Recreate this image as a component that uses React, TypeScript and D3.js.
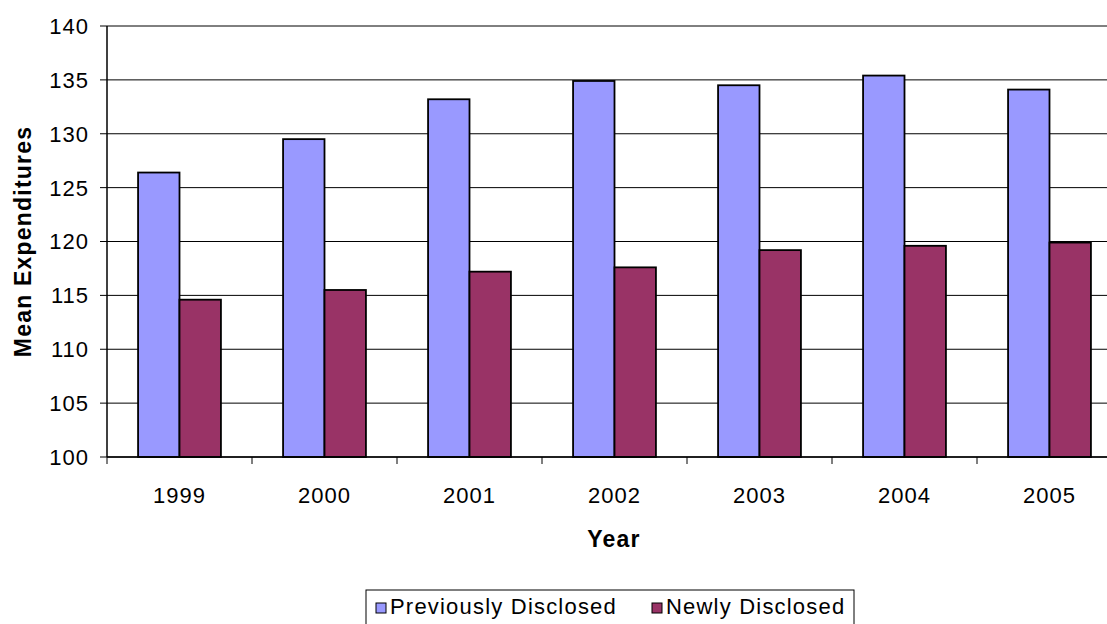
import React from "react";
import * as d3 from "d3";

const years = ["1999", "2000", "2001", "2002", "2003", "2004", "2005"];
const previouslyDisclosed = [126.4, 129.5, 133.2, 134.9, 134.5, 135.4, 134.1];
const newlyDisclosed = [114.6, 115.5, 117.2, 117.6, 119.2, 119.6, 119.9];
const seriesNames = ["Previously Disclosed", "Newly Disclosed"];
const seriesColors = ["#9999FF", "#993366"];
const yTicks = [100, 105, 110, 115, 120, 125, 130, 135, 140];

const W = 1107;
const H = 624;
const left = 107;
const right = 1122;
const top = 26;
const bottom = 457;
const FONT = "'Liberation Sans', Arial, sans-serif";

export default function App() {
  const x = d3.scaleBand<string>().domain(years).range([left, right]).paddingInner(0).paddingOuter(0);
  const y = d3.scaleLinear().domain([100, 140]).range([bottom, top]);
  const bw = x.bandwidth();
  const barW = bw / 3.5;
  const inner = d3.scaleBand<number>().domain([0, 1]).range([barW * 0.75, barW * 2.75]);
  const series = [previouslyDisclosed, newlyDisclosed];
  const legendX = [376, 652];

  return (
    <svg width={W} height={H} style={{ position: "absolute", left: 0, top: 0 }} fontFamily={FONT}>
      <rect x={0} y={0} width={W} height={H} fill="#fff" />
      {yTicks.map((t) => (
        <g key={t}>
          <line x1={left - 7} x2={right} y1={y(t)} y2={y(t)} stroke="#000" strokeWidth={1} />
          <text x={89} y={y(t)} dy="0.36em" textAnchor="end" fontSize={22} letterSpacing={1} fill="#000">
            {t}
          </text>
        </g>
      ))}
      {series.map((vals, si) =>
        vals.map((v, i) => (
          <rect
            key={`${si}-${i}`}
            x={(x(years[i]) as number) + (inner(si) as number)}
            y={y(v)}
            width={inner.bandwidth()}
            height={y(100) - y(v)}
            fill={seriesColors[si]}
            stroke="#000"
            strokeWidth={1.8}
          />
        ))
      )}
      <line x1={left} x2={left} y1={top} y2={bottom} stroke="#000" strokeWidth={1.5} />
      <line x1={left} x2={right} y1={bottom} y2={bottom} stroke="#000" strokeWidth={1.5} />
      {years.map((yr) => (
        <line key={`t${yr}`} x1={x(yr) as number} x2={x(yr) as number} y1={bottom} y2={bottom + 7} stroke="#000" />
      ))}
      <line x1={right} x2={right} y1={bottom} y2={bottom + 7} stroke="#000" />
      {years.map((yr) => (
        <text
          key={`l${yr}`}
          x={(x(yr) as number) + bw / 2}
          y={503}
          textAnchor="middle"
          fontSize={22}
          letterSpacing={1}
          fill="#000"
        >
          {yr}
        </text>
      ))}
      <text x={614} y={547} textAnchor="middle" fontSize={23} fontWeight="bold" letterSpacing={1.2}>
        Year
      </text>
      <text
        transform={`translate(31, ${(top + bottom) / 2}) rotate(-90)`}
        textAnchor="middle"
        fontSize={23}
        fontWeight="bold"
        letterSpacing={1.2}
      >
        Mean Expenditures
      </text>
      <g>
        <rect x={366} y={590} width={488} height={50} fill="#fff" stroke="#000" strokeWidth={1} />
        {seriesNames.map((n, i) => {
          const lx = legendX[i];
          return (
            <g key={n}>
              <rect x={lx} y={603} width={10} height={10} fill={seriesColors[i]} stroke="#000" strokeWidth={1} />
              <text x={lx + 14} y={614} fontSize={22} letterSpacing={1.2} fill="#000">
                {n}
              </text>
            </g>
          );
        })}
      </g>
    </svg>
  );
}
